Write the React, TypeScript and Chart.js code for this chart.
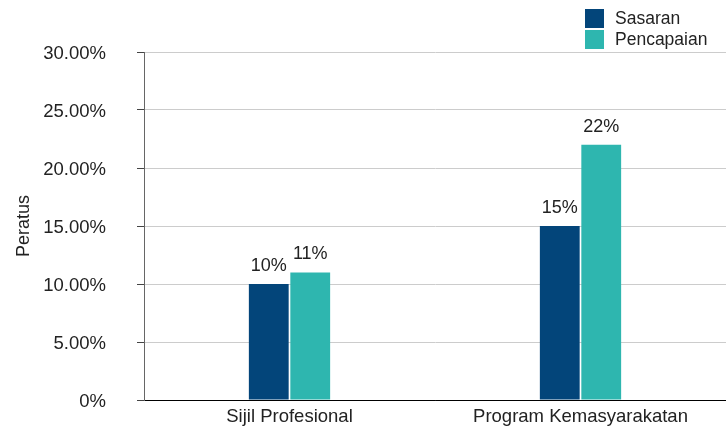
import React, { useEffect, useRef } from "react";
import { Chart, registerables } from "chart.js";

Chart.register(...registerables);

const categories = ["Sijil Profesional", "Program Kemasyarakatan"];
const seriesNames = ["Sasaran", "Pencapaian"];
const sasaran = [10, 15];
const pencapaian = [11, 22];
const colors = ["#03457a", "#2eb6af"];
const FONT = "'Liberation Sans', Arial, Helvetica, sans-serif";

const dataLabelPlugin = {
  id: "dataLabels",
  afterDatasetsDraw(chart: any) {
    const ctx = chart.ctx;
    ctx.save();
    ctx.font = `18px ${FONT}`;
    ctx.fillStyle = "#222";
    ctx.textAlign = "center";
    ctx.textBaseline = "alphabetic";
    chart.data.datasets.forEach((ds: any, i: number) => {
      const meta = chart.getDatasetMeta(i);
      meta.data.forEach((bar: any, j: number) => {
        ctx.fillText(`${ds.data[j]}%`, bar.x, bar.y - 13);
      });
    });
    ctx.restore();
  },
};

const legendPlugin = {
  id: "customLegend",
  afterDraw(chart: any) {
    const ctx = chart.ctx;
    ctx.save();
    ctx.font = `17.5px ${FONT}`;
    ctx.textAlign = "left";
    ctx.textBaseline = "middle";
    seriesNames.forEach((name, i) => {
      const y = 9 + i * 21;
      ctx.fillStyle = colors[i];
      ctx.fillRect(585, y, 19, 19);
      ctx.fillStyle = "#222";
      ctx.fillText(name, 615, y + 10);
    });
    ctx.restore();
  },
};

export default function App() {
  const ref = useRef<HTMLCanvasElement | null>(null);
  useEffect(() => {
    if (!ref.current) return;
    const chart = new Chart(ref.current, {
      type: "bar",
      data: {
        labels: categories,
        datasets: [
          { label: seriesNames[0], data: sasaran, backgroundColor: colors[0] },
          { label: seriesNames[1], data: pencapaian, backgroundColor: colors[1] },
        ],
      },
      options: {
        animation: false,
        responsive: true,
        maintainAspectRatio: false,
        layout: { padding: { left: 0, top: 52, right: 0, bottom: 0 } },
        datasets: { bar: { categoryPercentage: 0.285, barPercentage: 0.96 } },
        plugins: { legend: { display: false }, tooltip: { enabled: false } },
        scales: {
          x: {
            grid: { display: false, drawTicks: false },
            border: { display: true, color: "#000", width: 1 },
            ticks: { color: "#222", font: { family: FONT, size: 18.5 }, padding: 6 },
            afterFit: (s: any) => {
              s.height = 29;
              s.paddingLeft = 0;
              s.paddingRight = 0;
            },
          },
          y: {
            min: 0,
            max: 30,
            grid: {
              color: (c: any) => (c.tick && c.tick.value === 0 ? "#000" : "#cccccc"),
              tickColor: "#444",
              tickLength: 7,
              lineWidth: 1,
            },
            border: { display: true, color: "#666", width: 1 },
            ticks: {
              stepSize: 5,
              color: "#222",
              padding: 31,
              labelOffset: 2,
              font: { family: FONT, size: 18.5 },
              callback: (v: any) => (Number(v) === 0 ? "0%" : `${Number(v).toFixed(2)}%`),
            },
            title: {
              display: true,
              text: "Peratus",
              color: "#222",
              font: { family: FONT, size: 18 },
              padding: { top: 13, bottom: 0 },
            },
            afterFit: (s: any) => {
              s.width = 144;
              s.paddingTop = 0;
              s.paddingBottom = 0;
            },
          },
        },
      },
      plugins: [dataLabelPlugin, legendPlugin],
    });
    return () => chart.destroy();
  }, []);
  return (
    <div style={{ position: "absolute", left: 0, top: 0, width: 726, height: 429, background: "#fff" }}>
      <canvas ref={ref} style={{ display: "block" }} />
    </div>
  );
}
